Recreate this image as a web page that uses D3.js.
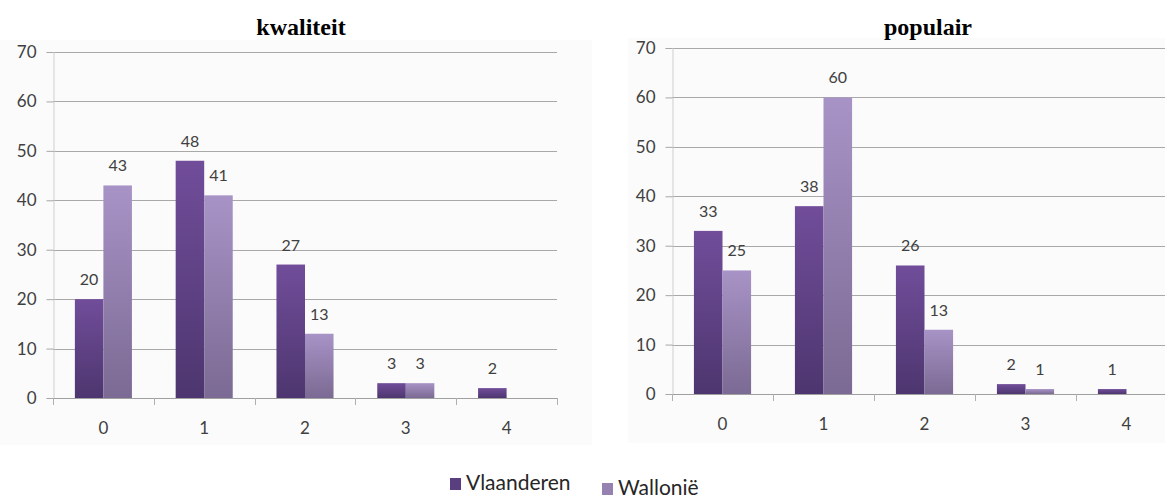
<!DOCTYPE html>
<html>
<head>
<meta charset="utf-8">
<script src="https://cdn.jsdelivr.net/npm/d3@7/dist/d3.min.js"></script>
<style>
  html, body { margin: 0; padding: 0; background: #ffffff; }
  svg { display: block; }
</style>
</head>
<body>
<svg id="chart" width="1165" height="499"></svg>
<script>
// Number of points given, per region
const categories = ["0", "1", "2", "3", "4"];
const seriesNames = ["Vlaanderen", "Wallonië"];

// Panel "kwaliteit"
const kwaliteitVlaanderen = [20, 48, 27, 3, 2];
const kwaliteitWallonie = [43, 41, 13, 3, null];

// Panel "populair"
const populairVlaanderen = [33, 38, 26, 2, 1];
const populairWallonie = [25, 60, 13, 1, null];

const yTicks = [0, 10, 20, 30, 40, 50, 60, 70];

const panels = [
  { title: "kwaliteit", values: [kwaliteitVlaanderen, kwaliteitWallonie],
    x0: 53, x1: 557, yTop: 52, yBottom: 398, titleX: 301,
    bg: [0, 40, 592, 405] },
  { title: "populair", values: [populairVlaanderen, populairWallonie],
    x0: 672, x1: 1177, yTop: 48, yBottom: 394, titleX: 928,
    bg: [628, 38, 537, 405] }
];

const svg = d3.select("#chart");
const defs = svg.append("defs");

// Vertical gradients: lighter at the top, darker at the base
const gradients = [
  { id: "gradV", top: "#714d9a", bottom: "#4d366f" },
  { id: "gradW", top: "#a893c6", bottom: "#7b6a93" }
];
gradients.forEach(g => {
  const lg = defs.append("linearGradient")
    .attr("id", g.id).attr("x1", 0).attr("y1", 0).attr("x2", 0).attr("y2", 1);
  lg.append("stop").attr("offset", "0%").attr("stop-color", g.top);
  lg.append("stop").attr("offset", "100%").attr("stop-color", g.bottom);
});
const fills = ["url(#gradV)", "url(#gradW)"];

const labelFont = "Lato, 'Open Sans', sans-serif";

panels.forEach(p => {
  const g = svg.append("g");

  // soft panel background
  g.append("rect")
    .attr("x", p.bg[0]).attr("y", p.bg[1])
    .attr("width", p.bg[2]).attr("height", p.bg[3])
    .attr("fill", "#fbfbfb");

  const y = d3.scaleLinear().domain([0, 70]).range([p.yBottom, p.yTop]);
  const x = d3.scaleBand().domain(categories).range([p.x0, p.x1])
    .paddingInner(0.434).paddingOuter(0.217);
  const xs = d3.scaleBand().domain(d3.range(seriesNames.length))
    .range([0, x.bandwidth()]);

  // gridlines
  g.append("g")
    .selectAll("line")
    .data(yTicks.filter(t => t > 0))
    .join("line")
    .attr("x1", p.x0).attr("x2", p.x1)
    .attr("y1", d => Math.round(y(d)) + 0.5)
    .attr("y2", d => Math.round(y(d)) + 0.5)
    .attr("stroke", "#a8a8a8").attr("stroke-width", 1);

  // y axis
  const yAxis = g.append("g")
    .attr("transform", `translate(${p.x0 + 0.5},0)`)
    .call(d3.axisLeft(y).tickValues(yTicks).tickSize(7).tickPadding(10));
  yAxis.select(".domain").attr("stroke", "#cfcfcf");
  yAxis.selectAll(".tick line").attr("stroke", "#a8a8a8");
  yAxis.selectAll(".tick text")
    .attr("font-family", labelFont).attr("font-size", 17).attr("fill", "#404040");

  // bars
  p.values.forEach((vals, si) => {
    const data = vals.map((v, i) => ({ v, c: categories[i] })).filter(d => d.v != null);
    g.append("g")
      .selectAll("rect")
      .data(data)
      .join("rect")
      .attr("x", d => x(d.c) + xs(si))
      .attr("width", xs.bandwidth())
      .attr("y", d => y(d.v))
      .attr("height", d => y(0) - y(d.v))
      .attr("fill", fills[si]);

    g.append("g")
      .selectAll("text")
      .data(data)
      .join("text")
      .attr("x", d => x(d.c) + xs(si) + xs.bandwidth() / 2)
      .attr("y", d => y(d.v) - 14)
      .attr("text-anchor", "middle")
      .attr("font-family", labelFont).attr("font-size", 16)
      .attr("fill", "#404040")
      .text(d => d.v);
  });

  // x axis with category boundary ticks
  const xAxisG = g.append("g");
  xAxisG.append("line")
    .attr("x1", p.x0).attr("x2", p.x1)
    .attr("y1", Math.round(y(0)) + 0.5).attr("y2", Math.round(y(0)) + 0.5)
    .attr("stroke", "#a0a0a0");
  const bounds = d3.range(categories.length + 1)
    .map(i => p.x0 + i * x.step());
  xAxisG.selectAll("line.b")
    .data(bounds)
    .join("line")
    .attr("class", "b")
    .attr("x1", d => Math.round(d) + 0.5).attr("x2", d => Math.round(d) + 0.5)
    .attr("y1", y(0)).attr("y2", y(0) + 7)
    .attr("stroke", "#b0b0b0");
  xAxisG.selectAll("text")
    .data(categories)
    .join("text")
    .attr("x", d => x(d) + x.bandwidth() / 2)
    .attr("y", y(0) + 36)
    .attr("text-anchor", "middle")
    .attr("font-family", labelFont).attr("font-size", 17)
    .attr("fill", "#404040")
    .text(d => d);

  // title
  g.append("text")
    .attr("x", p.titleX).attr("y", 35)
    .attr("text-anchor", "middle")
    .attr("font-family", "'Liberation Serif', 'Times New Roman', serif")
    .attr("font-weight", "bold").attr("font-size", 24)
    .attr("fill", "#000")
    .text(p.title);
});

// legend
const legendItems = [
  { name: seriesNames[0], fill: "#5a3f80", x: 450, y: 490 },
  { name: seriesNames[1], fill: "#9682b0", x: 602, y: 495 }
];
const lg = svg.append("g");
legendItems.forEach(d => {
  lg.append("rect")
    .attr("x", d.x).attr("y", d.y - 12)
    .attr("width", 11).attr("height", 12)
    .attr("fill", d.fill);
  lg.append("text")
    .attr("x", d.x + 16).attr("y", d.y)
    .attr("font-family", labelFont).attr("font-size", 21)
    .attr("fill", "#262626")
    .text(d.name);
});
</script>
</body>
</html>
